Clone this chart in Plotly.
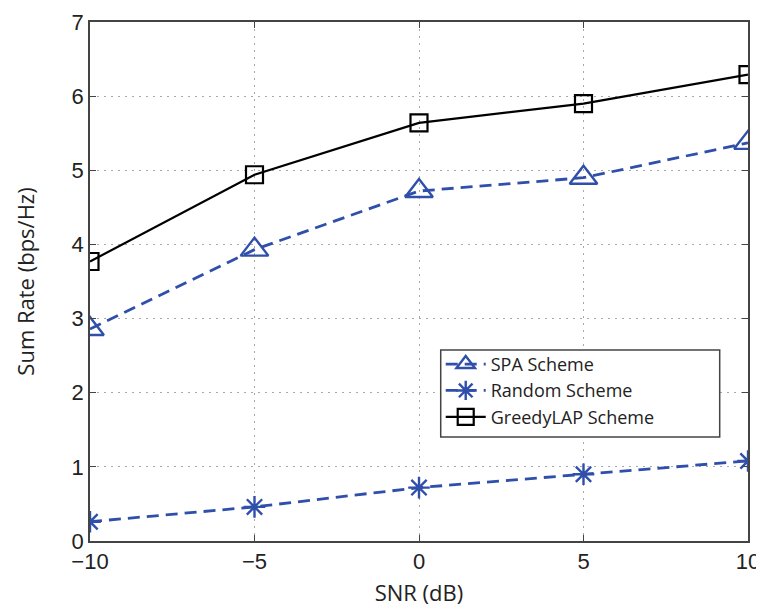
import plotly.graph_objects as go

snr = [-10, -5, 0, 5, 10]
spa = [2.86, 3.93, 4.72, 4.90, 5.37]
rand = [0.26, 0.46, 0.72, 0.90, 1.08]
greedy = [3.77, 4.94, 5.64, 5.90, 6.29]

blue = "#2F4FAA"
fig = go.Figure()
fig.add_trace(go.Scatter(x=snr, y=spa, name="SPA Scheme", mode="lines+markers",
                         line=dict(color=blue, width=2.8, dash="12px,7px"),
                         marker=dict(symbol="triangle-up-open", size=24, color=blue,
                                     line=dict(width=2.4, color=blue))))
fig.add_trace(go.Scatter(x=snr, y=rand, name="Random Scheme", mode="lines+markers",
                         line=dict(color=blue, width=2.8, dash="12px,7px"),
                         marker=dict(symbol="asterisk-open", size=18, color=blue,
                                     line=dict(width=2.4, color=blue))))
fig.add_trace(go.Scatter(x=snr, y=greedy, name="GreedyLAP Scheme", mode="lines+markers",
                         line=dict(color="black", width=2.2),
                         marker=dict(symbol="square-open", size=17, color="black",
                                     line=dict(width=2.2, color="black"))))

axis_common = dict(showline=True, linecolor="#444444", linewidth=1.5, mirror="ticks",
                   ticks="inside", ticklen=6, tickcolor="#444444",
                   showgrid=True, gridcolor="#A8A8A8", griddash="2px,5px", gridwidth=1,
                   zeroline=False, automargin=False,
                   tickfont=dict(family="Liberation Sans, Arial", size=22, color="#222222"))

title_font = dict(family="Open Sans, Liberation Sans", size=22, color="#222222")

fig.update_layout(
    width=756, height=599,
    margin=dict(l=82, r=16, t=14, b=66),
    paper_bgcolor="white", plot_bgcolor="white",
    showlegend=True,
    legend=dict(x=0.533, y=0.376, xanchor="left", yanchor="top",
                borderwidth=0, bgcolor="rgba(0,0,0,0)",
                font=dict(family="Open Sans, Liberation Sans", size=18, color="#222222"),
                tracegroupgap=0, itemwidth=40),
    shapes=[dict(type="rect", xref="paper", yref="paper",
                 x0=0.533, x1=0.957, y0=0.2004, y1=0.368,
                 line=dict(color="#444444", width=1.5), fillcolor="white", layer="above")],
    xaxis=dict(range=[-10, 10], tickvals=[-10, -5, 0, 5, 10],
               title=dict(text="SNR (dB)", standoff=12, font=title_font),
               **axis_common),
    yaxis=dict(range=[0, 7], tickvals=[0, 1, 2, 3, 4, 5, 6, 7],
               title=dict(text="Sum Rate (bps/Hz)", standoff=31, font=title_font),
               **axis_common),
)
fig.write_html("out.html")
